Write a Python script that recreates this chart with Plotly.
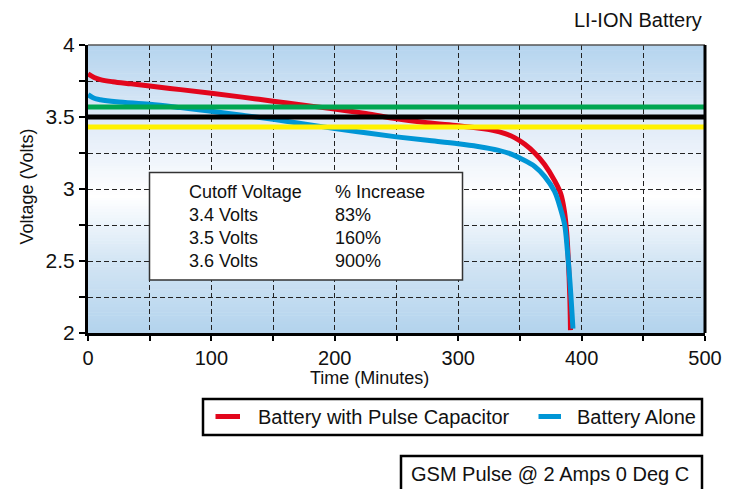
import plotly.graph_objects as go

# ---------------- data ----------------
time_cap = [0, 5, 10, 20, 35, 50, 75, 100, 125, 150, 175, 200, 225, 250, 275, 300,
            316, 328, 338, 346, 354, 362, 370, 378, 383, 386, 388, 389.5, 390.5, 391]
volt_cap = [3.80, 3.775, 3.76, 3.745, 3.73, 3.715, 3.69, 3.665, 3.638, 3.61, 3.582, 3.555,
            3.525, 3.488, 3.46, 3.44, 3.424, 3.408, 3.385, 3.355, 3.31, 3.25, 3.17, 3.06,
            2.97, 2.85, 2.69, 2.46, 2.23, 2.02]

time_alone = [0, 5, 10, 23, 50, 75, 100, 125, 150, 175, 200, 225, 250, 275, 300,
              316, 332, 343, 351, 362, 370, 378, 383, 386.3, 388.4, 390.6, 393]
volt_alone = [3.655, 3.63, 3.62, 3.606, 3.588, 3.565, 3.54, 3.512, 3.484, 3.452, 3.42,
              3.39, 3.362, 3.338, 3.314, 3.295, 3.27, 3.242, 3.21, 3.157, 3.088, 2.985,
              2.86, 2.75, 2.58, 2.35, 2.03]

ref_levels = [3.57, 3.50, 3.43]          # green, black, yellow reference lines
ref_colors = ["#00a651", "#000000", "#fff200"]

series_names = ["Battery with Pulse Capacitor", "Battery Alone"]

table_header = ["Cutoff Voltage", "% Increase"]
cutoff_labels = ["3.4 Volts", "3.5 Volts", "3.6 Volts"]
pct_increase = ["83%", "160%", "900%"]

x_ticks = [0, 100, 200, 300, 400, 500]
y_ticks = [2, 2.5, 3, 3.5, 4]

# ---------------- geometry helpers ----------------
W, H = 733, 489
L, R, T, B = 88, 705, 45, 333
PW, PH = R - L, B - T


def px_x(p):
    return (p - L) / PW


def px_y(p):
    return (B - p) / PH


FONT = "Liberation Sans, Arial, Helvetica, sans-serif"
TXT = "#111111"
RED = "#e2061c"
BLUE = "#0096d6"
series_colors = [RED, BLUE]

fig = go.Figure()

fig.add_trace(go.Scatter(x=time_cap, y=volt_cap, mode="lines", name=series_names[0],
                         showlegend=False,
                         line=dict(color=RED, width=5, shape="spline", smoothing=1.0)))
fig.add_trace(go.Scatter(x=time_alone, y=volt_alone, mode="lines", name=series_names[1],
                         showlegend=False,
                         line=dict(color=BLUE, width=5, shape="spline", smoothing=1.0)))
for lvl, col in zip(ref_levels, ref_colors):
    fig.add_trace(go.Scatter(x=[0, 500], y=[lvl, lvl], mode="lines", showlegend=False,
                             hoverinfo="skip", line=dict(color=col, width=5)))

# ---------------- background gradient (bands below grid) ----------------
def lerp(c1, c2, t):
    return tuple(int(round(a + (b - a) * t)) for a, b in zip(c1, c2))


stops = [(2.0, (179, 211, 237)), (2.5, (211, 229, 244)), (2.95, (255, 255, 255)),
         (3.5, (221, 233, 247)), (4.0, (180, 212, 238))]
shapes = []
n = 100
for i in range(n):
    y0 = 2 + 2 * i / n
    y1 = 2 + 2 * (i + 1) / n
    ym = (y0 + y1) / 2
    for (a, ca), (b, cb) in zip(stops[:-1], stops[1:]):
        if a <= ym <= b:
            c = lerp(ca, cb, (ym - a) / (b - a))
            break
    shapes.append(dict(type="rect", xref="x", yref="y", x0=0, x1=500, y0=y0,
                       y1=min(y1 + 0.004, 4), layer="below", line=dict(width=0),
                       fillcolor="rgb(%d,%d,%d)" % c))

# table box (covers the grid)
shapes.append(dict(type="rect", xref="paper", yref="paper", x0=px_x(149.5), x1=px_x(462.5),
                   y0=px_y(280), y1=px_y(172.5), layer="above",
                   fillcolor="white", line=dict(color="#333333", width=1.5)))
# top and right frame
shapes.append(dict(type="line", xref="paper", yref="paper", x0=0, x1=1, y0=1, y1=1,
                   layer="above", line=dict(color="#555555", width=1.5)))
shapes.append(dict(type="line", xref="paper", yref="paper", x0=1, x1=1, y0=0, y1=1,
                   layer="above", line=dict(color="black", width=3)))

# legend box with swatches
shapes.append(dict(type="rect", xref="paper", yref="paper", x0=px_x(203), x1=px_x(702),
                   y0=px_y(435), y1=px_y(399), layer="above", fillcolor="white",
                   line=dict(color="black", width=2.5)))
sw_x = [(215.5, 240), (538.5, 561)]
for (a, b), col in zip(sw_x, series_colors):
    shapes.append(dict(type="line", xref="paper", yref="paper", x0=px_x(a), x1=px_x(b),
                       y0=px_y(416.5), y1=px_y(416.5), layer="above",
                       line=dict(color=col, width=5)))

# note box (runs past the bottom edge, as in the original)
shapes.append(dict(type="rect", xref="paper", yref="paper", x0=px_x(401), x1=px_x(702),
                   y0=px_y(500), y1=px_y(456), layer="above", fillcolor="white",
                   line=dict(color="black", width=2.5)))

annotations = []
leg_text_x = [255.5, 575]
for name, tx in zip(series_names, leg_text_x):
    annotations.append(dict(text=name, xref="paper", yref="paper", x=px_x(tx), y=px_y(416.5),
                            xanchor="left", yanchor="middle", showarrow=False,
                            font=dict(size=20, color=TXT, family=FONT)))

# table text
col_x = [186.5, 332.5]
row_y = [191.5, 214.5, 238, 260.5]
rows = [table_header] + [[a, b] for a, b in zip(cutoff_labels, pct_increase)]
for r, row in enumerate(rows):
    for c, txt in enumerate(row):
        annotations.append(dict(text=txt, xref="paper", yref="paper", x=px_x(col_x[c]),
                                y=px_y(row_y[r]), xanchor="left", yanchor="middle",
                                showarrow=False, font=dict(size=18, color=TXT, family=FONT)))

annotations.append(dict(text="LI-ION Battery", xref="paper", yref="paper", x=px_x(704),
                        y=px_y(20), xanchor="right", yanchor="middle", showarrow=False,
                        font=dict(size=20, color=TXT, family=FONT)))
annotations.append(dict(text="Time (Minutes)", xref="paper", yref="paper", x=px_x(369.5),
                        y=px_y(378), xanchor="center", yanchor="middle", showarrow=False,
                        font=dict(size=18, color=TXT, family=FONT)))
annotations.append(dict(text="Voltage (Volts)", xref="paper", yref="paper", x=px_x(26.5),
                        y=px_y(187), xanchor="center", yanchor="middle", showarrow=False,
                        textangle=-90, font=dict(size=18, color=TXT, family=FONT)))
annotations.append(dict(text="GSM Pulse @ 2 Amps 0 Deg C", xref="paper", yref="paper",
                        x=px_x(550), y=px_y(473.5), xanchor="center", yanchor="middle",
                        showarrow=False, font=dict(size=20, color=TXT, family=FONT)))

grid = dict(gridcolor="#222222", gridwidth=1.2, griddash="5px,3px")

fig.update_layout(
    width=W, height=H,
    margin=dict(l=L, r=W - R, t=T, b=H - B, pad=0),
    paper_bgcolor="white", plot_bgcolor="white",
    font=dict(family=FONT, color=TXT),
    shapes=shapes, annotations=annotations,
    showlegend=False,
    xaxis=dict(range=[0, 500], tickvals=x_ticks, showgrid=True, **grid, automargin=False,
               ticks="outside", ticklen=5, tickwidth=1.5, tickcolor="black",
               showline=True, linecolor="black", linewidth=3, zeroline=False,
               tickfont=dict(size=20, color=TXT),
               minor=dict(dtick=50, tick0=0, ticks="outside", ticklen=5, tickwidth=1.5,
                          tickcolor="black", showgrid=True, **grid)),
    yaxis=dict(range=[2, 4], tickvals=y_ticks, showgrid=True, **grid, automargin=False,
               ticks="outside", ticklen=6, tickwidth=1.5, tickcolor="black",
               showline=True, linecolor="black", linewidth=3, zeroline=False,
               tickfont=dict(size=21, color=TXT),
               minor=dict(dtick=0.25, tick0=2, ticks="outside", ticklen=6, tickwidth=1.5,
                          tickcolor="black", showgrid=True, **grid)),
)

fig.write_html("out.html", config=dict(displayModeBar=False),
               post_script="document.body.style.margin='0';document.body.style.overflow='hidden';")
